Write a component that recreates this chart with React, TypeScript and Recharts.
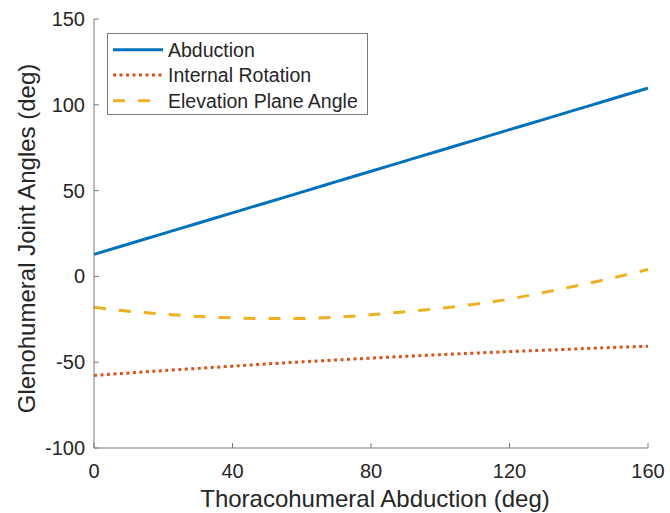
import { Label, Legend, Line, LineChart, XAxis, YAxis } from "recharts";

// thoracohumeral abduction, deg
const thoraco = [0, 10, 20, 30, 40, 50, 60, 70, 80, 90, 100, 110, 120, 130, 140, 150, 160];
const abduction = [12.8, 18.9, 24.9, 31.0, 37.0, 43.1, 49.1, 55.2, 61.3, 67.3, 73.4, 79.4, 85.5, 91.5, 97.6, 103.7, 109.7];
const internalRotation = [-57.7, -56.3, -54.9, -53.6, -52.3, -51.0, -49.8, -48.7, -47.6, -46.6, -45.6, -44.7, -43.8, -43.0, -42.2, -41.4, -40.7];
const elevationPlane = [-18.0, -20.3, -22.0, -23.3, -24.2, -24.6, -24.5, -23.8, -22.3, -20.6, -18.6, -16.2, -13.2, -9.3, -5.2, -0.8, 4.0];

const xTicks = [0, 40, 80, 120, 160];
const yTicks = [-100, -50, 0, 50, 100, 150];

const data = thoraco.map((t, i) => ({
  t,
  abduction: abduction[i],
  internal: internalRotation[i],
  elevation: elevationPlane[i],
}));

const FONT = "'Liberation Sans', Arial, Helvetica, sans-serif";
const AXIS = "#7a7a7a";
const TEXT = "#262626";

const series = [
  { key: "abduction", name: "Abduction", color: "#0072BD", dash: undefined as string | undefined },
  { key: "internal", name: "Internal Rotation", color: "#D95319", dash: "3 3.5" },
  { key: "elevation", name: "Elevation Plane Angle", color: "#EDB120", dash: "12 13" },
];

const XTick = (props: any) => {
  const { x, y, payload } = props;
  return (
    <g>
      <line x1={x} y1={y} x2={x} y2={y - 5} stroke={AXIS} strokeWidth={1} />
      <text x={x} y={y + 30} textAnchor="middle" fontSize={20} fontFamily={FONT} fill={TEXT}>
        {payload.value}
      </text>
    </g>
  );
};

const YTick = (props: any) => {
  const { x, y, payload } = props;
  return (
    <g>
      <line x1={x} y1={y} x2={x + 5} y2={y} stroke={AXIS} strokeWidth={1} />
      <text x={x - 9} y={y + 7} textAnchor="end" fontSize={20} fontFamily={FONT} fill={TEXT}>
        {payload.value}
      </text>
    </g>
  );
};

const XLabel = (props: any) => {
  const vb = props.viewBox || { x: 94, y: 448, width: 554, height: 65 };
  return (
    <text x={vb.x + vb.width / 2 + 4} y={vb.y + vb.height - 6} textAnchor="middle" fontSize={24} fontFamily={FONT} fill={TEXT}>
      Thoracohumeral Abduction (deg)
    </text>
  );
};

const YLabel = (props: any) => {
  const vb = props.viewBox || { x: 0, y: 19, width: 94, height: 429 };
  const cx = vb.x + 35;
  const cy = vb.y + vb.height / 2 + 5;
  return (
    <text x={cx} y={cy} transform={`rotate(-90, ${cx}, ${cy})`} textAnchor="middle" fontSize={24} fontFamily={FONT} fill={TEXT}>
      Glenohumeral Joint Angles (deg)
    </text>
  );
};

const LegendBox = () => {
  const rows = [16.7, 42, 67.7];
  return (
    <svg width={261} height={82} style={{ display: "block" }}>
      <rect x={0.5} y={0.5} width={260} height={81} fill="#fff" stroke={AXIS} strokeWidth={1} />
      {series.map((s, i) => (
        <g key={s.key}>
          <line x1={6} y1={rows[i]} x2={56} y2={rows[i]} stroke={s.color} strokeWidth={3} strokeDasharray={s.dash} />
          <text x={61} y={rows[i] + 7} fontSize={19.5} fontFamily={FONT} fill={TEXT}>
            {s.name}
          </text>
        </g>
      ))}
    </svg>
  );
};

export default function App() {
  return (
    <div style={{ position: "absolute", left: 0, top: 0, width: 670, height: 513, background: "#fff" }}>
      <LineChart width={670} height={513} data={data} margin={{ top: 19, right: 22, bottom: 0, left: 0 }}>
        <XAxis
          dataKey="t"
          type="number"
          domain={[0, 160]}
          ticks={xTicks}
          height={65}
          tickSize={0}
          tickMargin={0}
          tickLine={false}
          axisLine={{ stroke: AXIS, strokeWidth: 1 }}
          tick={<XTick />}
          interval={0}
        >
          <Label content={<XLabel />} />
        </XAxis>
        <YAxis
          type="number"
          domain={[-100, 150]}
          ticks={yTicks}
          width={94}
          tickSize={0}
          tickMargin={0}
          tickLine={false}
          axisLine={{ stroke: AXIS, strokeWidth: 1 }}
          tick={<YTick />}
          interval={0}
        >
          <Label content={<YLabel />} />
        </YAxis>
        <Legend
          layout="vertical"
          align="center"
          verticalAlign="middle"
          content={<LegendBox />}
          wrapperStyle={{ left: 107, top: 33, width: 261, height: 82 }}
        />
        {series.map((s) => (
          <Line
            key={s.key}
            dataKey={s.key}
            name={s.name}
            type="monotone"
            stroke={s.color}
            strokeWidth={3}
            strokeDasharray={s.dash}
            strokeLinecap="butt"
            dot={false}
            activeDot={false}
            isAnimationActive={false}
          />
        ))}
      </LineChart>
    </div>
  );
}
